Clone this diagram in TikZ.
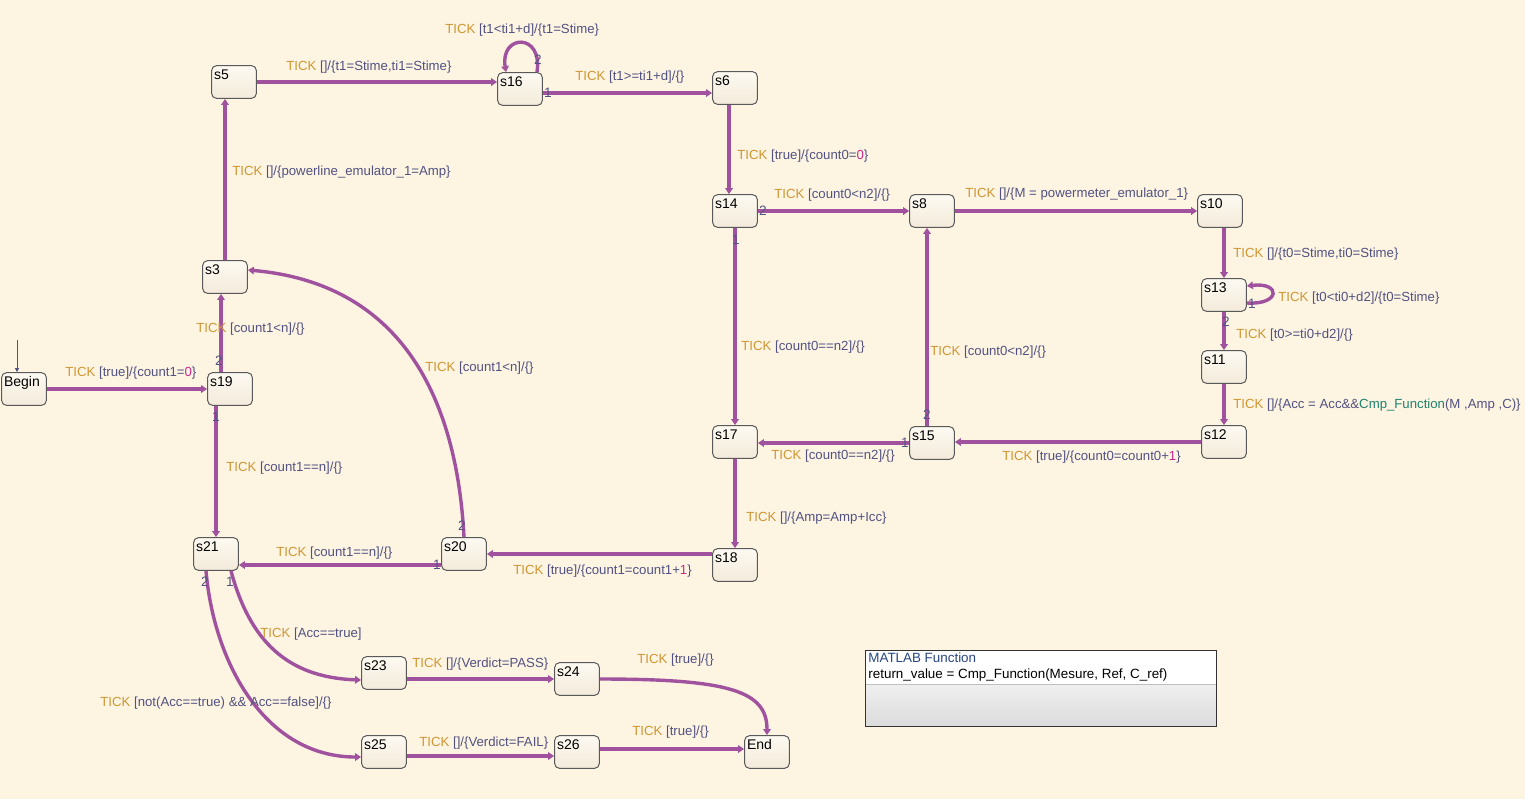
\documentclass[tikz,border=0pt]{standalone}
\usepackage{fontspec}
\setmainfont{Liberation Sans}
\usetikzlibrary{arrows.meta}
\definecolor{paper}{RGB}{253,244,226}
\definecolor{trans}{RGB}{160,82,158}
\definecolor{tickc}{RGB}{208,150,50}
\definecolor{actc}{RGB}{82,82,130}
\definecolor{numc}{RGB}{200,40,140}
\definecolor{fnc}{RGB}{30,130,110}
\definecolor{boxtop}{RGB}{253,250,242}
\definecolor{boxbot}{RGB}{243,234,218}
\newcommand{\tick}{\textcolor{tickc}{TICK}}
\tikzset{
  state/.style={draw=black!65, line width=0.5pt, rounded corners=2.5pt,
    top color=boxtop, bottom color=boxbot, text width=20pt, text height=5.5pt,
    text depth=8.5pt, inner sep=1.2pt, align=left},
  tr/.style={draw=trans, line width=1.7pt, -{Triangle[length=3pt,width=3.8pt]}},
  lbl/.style={text=actc, inner sep=0pt, anchor=west, font=\fontsize{6.6}{8}\selectfont},
  num/.style={text=actc, inner sep=0pt, font=\fontsize{6.8}{8}\selectfont}
}
\begin{document}
\begin{tikzpicture}[x=0.5pt, y=-0.5pt, font=\fontsize{7}{8.5}\selectfont]
  \fill[paper] (0,0) rectangle (1525,799);
  \useasboundingbox (0,0) rectangle (1525,799);
  % states
  \node[state] (begin) at (24,389) {Begin};
  \node[state] (s19) at (230,389) {s19};
  \node[state] (s3) at (225,277) {s3};
  \node[state] (s5) at (234,82) {s5};
  \node[state] (s16) at (520,89) {s16};
  \node[state] (s6) at (735,88) {s6};
  \node[state] (s14) at (735,211) {s14};
  \node[state] (s8) at (932,211) {s8};
  \node[state] (s10) at (1220,211) {s10};
  \node[state] (s13) at (1224,295) {s13};
  \node[state] (s11) at (1224,367) {s11};
  \node[state] (s12) at (1224,442) {s12};
  \node[state] (s15) at (932,443) {s15};
  \node[state] (s17) at (735,442) {s17};
  \node[state] (s18) at (735,565) {s18};
  \node[state] (s20) at (464,554) {s20};
  \node[state] (s21) at (216,554) {s21};
  \node[state] (s23) at (384,673) {s23};
  \node[state] (s24) at (577,679) {s24};
  \node[state] (s25) at (384,752) {s25};
  \node[state] (s26) at (577,752) {s26};
  \node[state] (end) at (767,752) {End};
  % matlab function block
  \node[minimum width=175pt, minimum height=37.5pt,
    top color=white, bottom color=black!14, inner sep=0pt] (mfun) at (1041,688.5) {};
  \fill[white] (mfun.north west) rectangle (mfun.east |- 0,684);
  \draw[black!25, line width=0.5pt] (mfun.west |- 0,684) -- (mfun.east |- 0,684);
  \draw[black!80, line width=0.5pt] (mfun.north west) rectangle (mfun.south east);
  \node[anchor=west, inner sep=0pt, font=\fontsize{6.7}{8}\selectfont,
    text={rgb,255:red,40;green,70;blue,130}] (mtitle) at (868,658) {MATLAB Function};
  \node[anchor=west, inner sep=0pt, font=\fontsize{6.7}{8}\selectfont] (msig) at (868,675)
    {return\_value = Cmp\_Function(Mesure, Ref, C\_ref)};
  % transitions
  \coordinate (init) at (17,340);
  \draw[actc, line width=0.4pt, -{Triangle[length=2pt,width=2pt]}] (init) -- (init |- begin.north);
  \draw[tr] (begin.east) -- (s19.west);
  \draw[tr] ([xshift=-4.5pt]s19.north) -- ([xshift=-2pt]s3.south);
  \draw[tr] ([xshift=-7pt]s19.south) -- (s21.north);
  \draw[tr] (s20.north) to[out=93, in=-5, looseness=1.1] ([yshift=3.5pt]s3.east);
  \draw[tr] (s3.north) -- (s3.north |- s5.south);
  \draw[tr] (s5.east) -- (s5.east -| s16.west);
  \draw[tr] ([xshift=8.5pt]s16.north) .. controls +(3pt,20pt) and +(-3pt,19pt) .. ([xshift=-7pt]s16.north);
  \draw[tr] ([yshift=-2pt]s16.east) -- ([yshift=-2pt]s16.east -| s6.west);
  \draw[tr] ([xshift=-3pt]s6.south) -- ([xshift=-3pt]s14.north);
  \draw[tr] (s14.east) -- (s8.west);
  \draw[tr] (s8.east) -- (s10.west);
  \draw[tr] (s13.north |- s10.south) -- (s13.north);
  \draw[tr] ([yshift=-4pt]s13.east) .. controls +(17pt,-1pt) and +(17pt,2pt) .. ([yshift=4.5pt]s13.east);
  \draw[tr] (s13.south) -- (s11.north);
  \draw[tr] (s11.south) -- (s12.north);
  \draw[tr] (s12.west) -- (s12.west -| s15.east);
  \draw[tr] (s15.west) -- (s15.west -| s17.east);
  \draw[tr] ([xshift=-2.5pt]s15.north) -- ([xshift=-2.5pt]s8.south);
  \draw[tr] (s14.south) -- (s17.north);
  \draw[tr] (s17.south) -- (s18.north);
  \draw[tr] (s18.west |- s20.east) -- (s20.east);
  \draw[tr] ([yshift=-5.5pt]s20.west) -- ([yshift=-5.5pt]s20.west -| s21.east);
  \draw[tr] ([xshift=7.5pt]s21.south) to[out=-75, in=178, looseness=1.1] ([yshift=-3.5pt]s23.west);
  \draw[tr] ([xshift=-5pt]s21.south) to[out=-85, in=180] ([yshift=-2.5pt]s25.west);
  \draw[tr] ([yshift=-3pt]s23.east) -- ([yshift=-3pt]s23.east -| s24.west);
  \draw[tr] (s24.east) .. controls +(65pt,0) and +(0,22pt) .. (end.north);
  \draw[tr] ([yshift=-2pt]s25.east) -- ([yshift=-2pt]s25.east -| s26.west);
  \draw[tr] ([yshift=1.5pt]s26.east) -- ([yshift=1.5pt]s26.east -| end.west);
  % transition numbers
  \node[num] (n19a) at (219,361) {2};
  \node[num] (n19b) at (216,417) {1};
  \node[num] (n20a) at (462,526) {2};
  \node[num] (n20b) at (437,565) {1};
  \node[num] (n16a) at (538,60) {2};
  \node[num] (n16b) at (548,93) {1};
  \node[num] (n14a) at (763,211) {2};
  \node[num] (n14b) at (736,240) {1};
  \node[num] (n13a) at (1252,304) {1};
  \node[num] (n13b) at (1226,322) {2};
  \node[num] (n15a) at (927,415) {2};
  \node[num] (n15b) at (905,443) {1};
  \node[num] (n21a) at (205,582) {2};
  \node[num] (n21b) at (230,582) {1};
  % transition labels
  \node[lbl] (l1) at (65,373) {\tick{} [true]/\{count1=\textcolor{numc}{0}\}};
  \node[lbl] (l2) at (196,329) {\tick{} [count1<n]/\{\}};
  \node[lbl] (l3) at (226,468) {\tick{} [count1==n]/\{\}};
  \node[lbl] (l4) at (425,368) {\tick{} [count1<n]/\{\}};
  \node[lbl] (l5) at (232,172) {\tick{} []/\{powerline\_emulator\_1=Amp\}};
  \node[lbl] (l6) at (286,67) {\tick{} []/\{t1=Stime,ti1=Stime\}};
  \node[lbl] (l7) at (445,30) {\tick{} [t1<ti1+d]/\{t1=Stime\}};
  \node[lbl] (l8) at (575,77) {\tick{} [t1>=ti1+d]/\{\}};
  \node[lbl] (l9) at (737,156) {\tick{} [true]/\{count0=\textcolor{numc}{0}\}};
  \node[lbl] (l10) at (774,195) {\tick{} [count0<n2]/\{\}};
  \node[lbl] (l11) at (965,194) {\tick{} []/\{M = powermeter\_emulator\_1\}};
  \node[lbl] (l12) at (1233,254) {\tick{} []/\{t0=Stime,ti0=Stime\}};
  \node[lbl] (l13) at (1278,298) {\tick{} [t0<ti0+d2]/\{t0=Stime\}};
  \node[lbl] (l14) at (1236,335) {\tick{} [t0>=ti0+d2]/\{\}};
  \node[lbl] (l15) at (1233,405) {\tick{} []/\{Acc = Acc\&\&\textcolor{fnc}{Cmp\_Function}(M ,Amp ,C)\}};
  \node[lbl] (l16) at (1002,457) {\tick{} [true]/\{count0=count0+\textcolor{numc}{1}\}};
  \node[lbl] (l17) at (771,456) {\tick{} [count0==n2]/\{\}};
  \node[lbl] (l18) at (930,352) {\tick{} [count0<n2]/\{\}};
  \node[lbl] (l19) at (741,347) {\tick{} [count0==n2]/\{\}};
  \node[lbl] (l20) at (746,518) {\tick{} []/\{Amp=Amp+Icc\}};
  \node[lbl] (l21) at (513,571) {\tick{} [true]/\{count1=count1+\textcolor{numc}{1}\}};
  \node[lbl] (l22) at (276,553) {\tick{} [count1==n]/\{\}};
  \node[lbl] (l23) at (260,634) {\tick{} [Acc==true]};
  \node[lbl] (l24) at (100,703) {\tick{} [not(Acc==true) \&\& Acc==false]/\{\}};
  \node[lbl] (l25) at (412,664) {\tick{} []/\{Verdict=PASS\}};
  \node[lbl] (l26) at (637,660) {\tick{} [true]/\{\}};
  \node[lbl] (l27) at (419,743) {\tick{} []/\{Verdict=FAIL\}};
  \node[lbl] (l28) at (632,732) {\tick{} [true]/\{\}};
\end{tikzpicture}
\end{document}
